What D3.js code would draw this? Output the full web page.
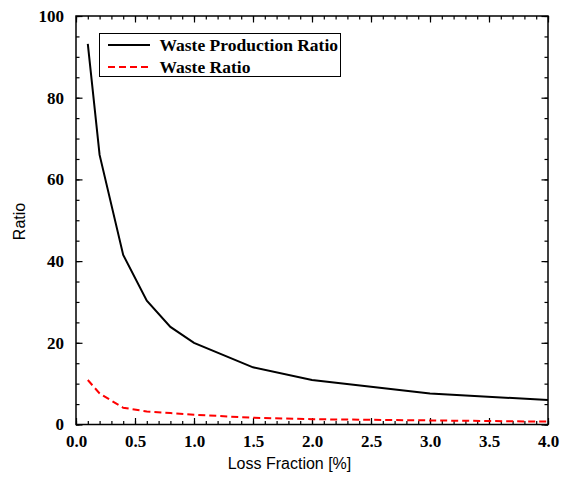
<!DOCTYPE html>
<html>
<head>
<meta charset="utf-8">
<script src="https://cdn.jsdelivr.net/npm/d3@7"></script>
<style>
  body { margin: 0; background: #fff; }
  svg { display: block; }
</style>
</head>
<body>
<svg id="chart" width="562" height="483"></svg>
<script>
// ---- data ----
const lossFraction = [0.1, 0.2, 0.4, 0.6, 0.8, 1.0, 1.5, 2.0, 3.0, 4.0];
const wasteProductionRatio = [93.2, 66.0, 41.5, 30.3, 23.9, 20.0, 14.0, 10.9, 7.6, 6.0];
const wasteRatio = [10.9, 7.6, 4.1, 3.2, 2.8, 2.4, 1.65, 1.3, 1.0, 0.7];
const seriesNames = ["Waste Production Ratio", "Waste Ratio"];
const xTicks = [0.0, 0.5, 1.0, 1.5, 2.0, 2.5, 3.0, 3.5, 4.0];
const yTicks = [0, 20, 40, 60, 80, 100];

const svg = d3.select("#chart");
const L = 76, R = 548, T = 16, B = 424.5;
const x = d3.scaleLinear().domain([0, 4]).range([L, R]);
const y = d3.scaleLinear().domain([0, 100]).range([B, T]);

const serif = "'Liberation Serif','Times New Roman',serif";
const sans = "'Liberation Sans',Arial,sans-serif";

const xMinor = d3.range(0, 40.5, 1).map(d => d / 10);
const yMinor = d3.range(0, 101, 5);

function styleAxis(g) {
  g.select(".domain").remove();
  g.selectAll(".tick line").attr("stroke", "#000").attr("stroke-width", 1.2);
  g.selectAll(".tick text").attr("fill", "#000")
    .style("font-family", serif).style("font-weight", "bold").style("font-size", "17px");
}

// bottom
svg.append("g").attr("transform", `translate(0,${B})`)
  .call(d3.axisBottom(x).tickValues(xMinor).tickSize(-3.5).tickFormat(""))
  .call(styleAxis);
svg.append("g").attr("transform", `translate(0,${B})`)
  .call(d3.axisBottom(x).tickValues(xTicks).tickSize(-6.5).tickSizeOuter(0).tickPadding(10).tickFormat(d3.format(".1f")))
  .call(styleAxis);
// top
svg.append("g").attr("transform", `translate(0,${T})`)
  .call(d3.axisTop(x).tickValues(xMinor).tickSize(-3.5).tickFormat(""))
  .call(styleAxis);
svg.append("g").attr("transform", `translate(0,${T})`)
  .call(d3.axisTop(x).tickValues(xTicks).tickSize(-6.5).tickFormat(""))
  .call(styleAxis);
// left
svg.append("g").attr("transform", `translate(${L},0)`)
  .call(d3.axisLeft(y).tickValues(yMinor).tickSize(-3.5).tickFormat(""))
  .call(styleAxis);
svg.append("g").attr("transform", `translate(${L},0)`)
  .call(d3.axisLeft(y).tickValues(yTicks).tickSize(-6.5).tickPadding(12).tickFormat(d3.format("d")))
  .call(styleAxis);
// right
svg.append("g").attr("transform", `translate(${R},0)`)
  .call(d3.axisRight(y).tickValues(yMinor).tickSize(-3.5).tickFormat(""))
  .call(styleAxis);
svg.append("g").attr("transform", `translate(${R},0)`)
  .call(d3.axisRight(y).tickValues(yTicks).tickSize(-6.5).tickFormat(""))
  .call(styleAxis);

// frame
svg.append("rect").attr("x", L).attr("y", T).attr("width", R - L).attr("height", B - T)
  .attr("fill", "none").attr("stroke", "#000").attr("stroke-width", 1.5);

// lines
const line = d3.line().x(d => x(d[0])).y(d => y(d[1]));
svg.append("path")
  .datum(lossFraction.map((v, i) => [v, wasteProductionRatio[i]]))
  .attr("d", line).attr("fill", "none").attr("stroke", "#000").attr("stroke-width", 2);
svg.append("path")
  .datum(lossFraction.map((v, i) => [v, wasteRatio[i]]))
  .attr("d", line).attr("fill", "none").attr("stroke", "#ff0000").attr("stroke-width", 2)
  .attr("stroke-dasharray", "7,4");

// legend
const lg = svg.append("g");
lg.append("rect").attr("x", 99.5).attr("y", 33.5).attr("width", 241).attr("height", 43)
  .attr("fill", "#fff").attr("stroke", "#000").attr("stroke-width", 1);
const legendStyles = [{ c: "#000", dash: null, yy: 45 }, { c: "#ff0000", dash: "7,4", yy: 67 }];
seriesNames.forEach((name, i) => {
  const s = legendStyles[i];
  lg.append("line").attr("x1", 108).attr("x2", 150).attr("y1", s.yy).attr("y2", s.yy)
    .attr("stroke", s.c).attr("stroke-width", 2).attr("stroke-dasharray", s.dash);
  lg.append("text").attr("x", 159.5).attr("y", s.yy + 5.5).text(name)
    .style("font-family", serif).style("font-weight", "bold").style("font-size", "17.5px");
});

// axis titles
svg.append("text").attr("x", 289.5).attr("y", 469).attr("text-anchor", "middle")
  .style("font-family", sans).style("font-size", "16px").text("Loss Fraction [%]");
svg.append("text").attr("transform", "translate(25,221.5) rotate(-90)").attr("text-anchor", "middle")
  .style("font-family", sans).style("font-size", "16px").text("Ratio");
</script>
</body>
</html>
